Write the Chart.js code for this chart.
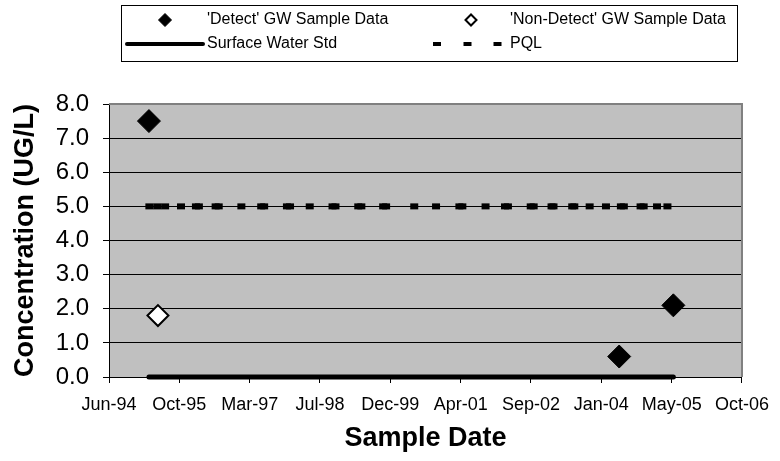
<!DOCTYPE html>
<html>
<head>
<meta charset="utf-8">
<script src="https://cdn.jsdelivr.net/npm/chart.js@4.4.1/dist/chart.umd.min.js"></script>
<style>
  html, body { margin: 0; padding: 0; background: #ffffff; }
  canvas { display: block; }
</style>
</head>
<body>
<canvas id="c" width="780" height="461"></canvas>
<script>
// ---- Data (x values are Excel date serials) ----
const xAxisMin = 34500;   // 15-Jun-1994
const xAxisMax = 39000;   // 10-Oct-2006
const xAxisStep = 500;    // days between tick labels
const yAxisMin = 0;
const yAxisMax = 8;
const yAxisStep = 1;

const seriesLabels = ["'Detect' GW Sample Data", "'Non-Detect' GW Sample Data", "Surface Water Std", "PQL"];

const detectDates = [34784, 38127, 38512];
const detectValues = [7.5, 0.6, 2.1];

const nonDetectDates = [34848];
const nonDetectValues = [1.8];

const swDates = [34784, 38512];
const swValues = [0.0, 0.0];

const pqlDates = [34787, 34843, 34899, 35012, 35118, 35139, 35258, 35280, 35441, 35582,
                  35603, 35765, 35787, 35927, 36089, 36110, 36272, 36294, 36449, 36470,
                  36670, 36825, 36991, 37012, 37177, 37315, 37336, 37498, 37519, 37646,
                  37660, 37793, 37808, 37917, 38033, 38139, 38160, 38279, 38301, 38396,
                  38470];
const pqlValues = [5.0, 5.0, 5.0, 5.0, 5.0, 5.0, 5.0, 5.0, 5.0, 5.0,
                   5.0, 5.0, 5.0, 5.0, 5.0, 5.0, 5.0, 5.0, 5.0, 5.0,
                   5.0, 5.0, 5.0, 5.0, 5.0, 5.0, 5.0, 5.0, 5.0, 5.0,
                   5.0, 5.0, 5.0, 5.0, 5.0, 5.0, 5.0, 5.0, 5.0, 5.0,
                   5.0];

const monthNames = ['Jan','Feb','Mar','Apr','May','Jun','Jul','Aug','Sep','Oct','Nov','Dec'];

// ---- helpers ----
const FONT = '"Liberation Sans", Arial, Helvetica, sans-serif';
function serialLabel(v) {
  const d = new Date(Date.UTC(1899, 11, 30) + v * 86400000);
  const yy = String(d.getUTCFullYear() % 100).padStart(2, '0');
  return monthNames[d.getUTCMonth()] + '-' + yy;
}
function pts(xs, ys) { return xs.map((x, i) => ({ x: x, y: ys[i] })); }

function diamond(ctx, x, y, r, fill, stroke, lw) {
  ctx.beginPath();
  ctx.moveTo(x - r, y); ctx.lineTo(x, y - r); ctx.lineTo(x + r, y); ctx.lineTo(x, y + r);
  ctx.closePath();
  ctx.fillStyle = fill; ctx.fill();
  ctx.lineWidth = lw; ctx.strokeStyle = stroke; ctx.stroke();
}

const plotBg = {
  id: 'plotBg',
  beforeDraw(chart) {
    const { ctx, chartArea: a } = chart;
    ctx.save();
    ctx.fillStyle = '#C0C0C0';
    ctx.fillRect(a.left, a.top, a.right - a.left, a.bottom - a.top);
    ctx.restore();
  },
  beforeDatasetsDraw(chart) {
    const { ctx, chartArea: a } = chart;
    ctx.save();
    ctx.strokeStyle = '#808080';
    ctx.lineWidth = 2;
    ctx.beginPath();
    ctx.moveTo(a.left, a.top);
    ctx.lineTo(a.right, a.top);
    ctx.lineTo(a.right, a.bottom);
    ctx.stroke();
    ctx.restore();
  }
};

const boxLegend = {
  id: 'boxLegend',
  afterDraw(chart) {
    const ctx = chart.ctx;
    const labels = chart.data.datasets.map(d => d.label);
    ctx.save();
    ctx.strokeStyle = '#000'; ctx.lineWidth = 1;
    ctx.strokeRect(121.5, 5.5, 616, 56);
    ctx.font = '16px ' + FONT;
    ctx.textBaseline = 'middle';
    // row 1
    diamond(ctx, 165, 20, 6.5, '#000', '#000', 1);
    diamond(ctx, 471, 20, 5.5, '#fff', '#000', 2);
    ctx.fillStyle = '#000';
    ctx.fillText(labels[0], 207, 20);
    ctx.fillText(labels[1], 510, 20);
    // row 2
    ctx.strokeStyle = '#000'; ctx.lineWidth = 4; ctx.lineCap = 'round';
    ctx.beginPath(); ctx.moveTo(127, 44); ctx.lineTo(203, 44); ctx.stroke();
    ctx.fillStyle = '#000';
    [437, 467.5, 497.5].forEach(x => ctx.fillRect(x - 4, 42, 8, 4));
    ctx.fillText(labels[2], 207, 44);
    ctx.fillText(labels[3], 510, 44);
    ctx.restore();
  }
};

new Chart(document.getElementById('c'), {
  type: 'scatter',
  data: {
    datasets: [
      {
        label: seriesLabels[0],
        data: pts(detectDates, detectValues),
        pointStyle: 'rectRot', pointRadius: 11.5, pointBorderWidth: 1,
        backgroundColor: '#000', borderColor: '#000', order: 0, clip: false
      },
      {
        label: seriesLabels[1],
        data: pts(nonDetectDates, nonDetectValues),
        pointStyle: 'rectRot', pointRadius: 10.5, pointBorderWidth: 2,
        backgroundColor: '#fff', borderColor: '#000', order: 1, clip: false
      },
      {
        label: seriesLabels[2],
        data: pts(swDates, swValues),
        showLine: true, borderColor: '#000', borderWidth: 5, borderCapStyle: 'round',
        pointRadius: 0, order: 3, clip: false
      },
      {
        label: seriesLabels[3],
        data: pts(pqlDates, pqlValues),
        showLine: false, pointStyle: 'line', pointRadius: 4, pointBorderWidth: 6,
        borderColor: '#000', backgroundColor: '#000', order: 2, clip: false
      }
    ]
  },
  options: {
    responsive: false,
    animation: false,
    devicePixelRatio: 1,
    events: [],
    layout: { padding: { top: 104, right: 32, bottom: 0, left: 0 } },
    plugins: { legend: { display: false }, tooltip: { enabled: false } },
    scales: {
      x: {
        type: 'linear', min: xAxisMin, max: xAxisMax,
        ticks: {
          stepSize: xAxisStep, autoSkip: false, maxRotation: 0, minRotation: 0,
          padding: 11, color: '#000', font: { family: FONT, size: 18 },
          callback: v => serialLabel(v)
        },
        grid: { drawOnChartArea: false, drawTicks: true, tickLength: 6, tickColor: '#000', tickWidth: 1 },
        border: { display: true, color: '#000', width: 1 },
        title: {
          display: true, text: 'Sample Date', color: '#000',
          font: { family: FONT, size: 27, weight: 'bold' }, padding: { top: 0, bottom: 6 }
        },
        afterFit: s => { s.height = 84; }
      },
      y: {
        min: yAxisMin, max: yAxisMax,
        ticks: {
          stepSize: yAxisStep, autoSkip: false, padding: 14, color: '#000',
          font: { family: FONT, size: 24 },
          callback: v => Number(v).toFixed(1)
        },
        grid: {
          color: c => (c.tick && c.tick.value === yAxisMax) ? 'rgba(0,0,0,0)' : '#000',
          lineWidth: 1, drawTicks: true, tickLength: 6, tickColor: '#000', tickWidth: 1
        },
        border: { display: true, color: '#000', width: 1 },
        title: {
          display: true, text: 'Concentration (UG/L)', color: '#000',
          font: { family: FONT, size: 27, weight: 'bold' }, padding: { top: 9, bottom: 0 }
        },
        afterFit: s => { s.width = 109; }
      }
    }
  },
  plugins: [plotBg, boxLegend]
});
</script>
</body>
</html>
